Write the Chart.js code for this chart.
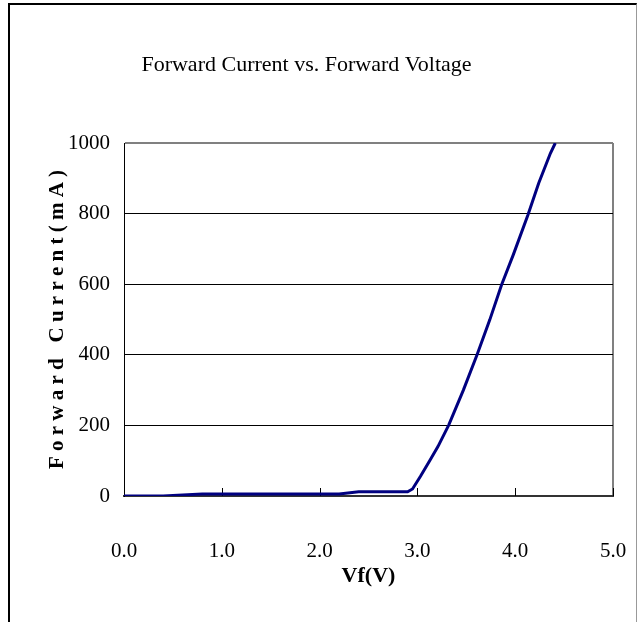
<!DOCTYPE html>
<html>
<head>
<meta charset="utf-8">
<script src="https://cdn.jsdelivr.net/npm/chart.js@4.4.0/dist/chart.umd.min.js"></script>
<style>
  html, body { margin: 0; padding: 0; background: #fff; overflow: hidden; }
  #wrap { position: relative; width: 637px; height: 622px; }
  #frame { position: absolute; left: 8px; top: 3px; width: 626px; height: 630px;
           border-left: 2px solid #000; border-top: 2px solid #000; border-right: 1px solid #999;
           pointer-events: none; }
</style>
</head>
<body>
<div id="wrap">
  <canvas id="ivChart"></canvas>
  <div id="frame"></div>
</div>
<script>
// Vf (V) vs If (mA)
const voltage = [0, 0.4, 0.8, 1.0, 2.2, 2.4, 2.9, 2.95, 3.03, 3.13, 3.21, 3.32, 3.47, 3.61, 3.74, 3.86, 3.98, 4.13, 4.24, 4.36, 4.41];
const current = [0, 0, 6, 6, 6, 12, 12, 20, 55, 102, 140, 201, 300, 400, 499, 598, 683, 796, 886, 971, 1000];
const xTicks = [0, 1, 2, 3, 4, 5];
const yTicks = [0, 200, 400, 600, 800, 1000];

const serif = '"Liberation Serif", "Times New Roman", serif';

// small tick marks pointing up into the plot area
const innerTicks = {
    id: 'innerTicks',
    beforeDatasetsDraw(chart) {
        const { ctx, chartArea, scales } = chart;
        ctx.save();
        ctx.strokeStyle = '#000';
        ctx.lineWidth = 1;
        xTicks.forEach(v => {
            const x = Math.round(scales.x.getPixelForValue(v)) + 0.5;
            ctx.beginPath();
            ctx.moveTo(x, chartArea.bottom);
            ctx.lineTo(x, chartArea.bottom - 8);
            ctx.stroke();
        });
        ctx.restore();
    }
};

const ctx = document.getElementById('ivChart').getContext('2d');
new Chart(ctx, {
    type: 'line',
    data: {
        datasets: [{
            label: 'Forward Current',
            data: voltage.map((v, i) => ({ x: v, y: current[i] })),
            borderColor: '#000080',
            borderWidth: 3,
            pointRadius: 0,
            tension: 0,
            fill: false
        }]
    },
    options: {
        responsive: true,
        maintainAspectRatio: false,
        animation: false,
        layout: { padding: { left: 0, right: 24, top: 0, bottom: 0 } },
        plugins: {
            legend: { display: false },
            tooltip: { enabled: false },
            title: {
                display: true,
                text: 'Forward Current vs. Forward Voltage',
                color: '#000',
                font: { family: serif, size: 22, weight: 'normal' },
                padding: { top: 52, bottom: 64.6 }
            }
        },
        scales: {
            x: {
                type: 'linear',
                min: 0,
                max: 5,
                afterBuildTicks: s => { s.ticks = xTicks.map(v => ({ value: v })); },
                afterFit: s => { s.height = 126; s.paddingLeft = 0; s.paddingRight = 0; },
                ticks: {
                    color: '#000',
                    padding: 43,
                    maxRotation: 0,
                    font: { family: serif, size: 21 },
                    callback: v => Number(v).toFixed(1)
                },
                grid: {
                    drawTicks: false,
                    lineWidth: 2,
                    color: c => (c.tick && c.tick.value === 5) ? '#808080' : 'rgba(0,0,0,0)'
                },
                border: { color: '#333', width: 2 },
                title: {
                    display: true,
                    text: 'Vf(V)',
                    color: '#000',
                    font: { family: serif, size: 22, weight: 'bold' },
                    padding: { top: 0, bottom: 32 }
                }
            },
            y: {
                min: 0,
                max: 1000,
                afterBuildTicks: s => { s.ticks = yTicks.map(v => ({ value: v })); },
                afterFit: s => { s.width = 124; },
                ticks: {
                    color: '#000',
                    padding: 14,
                    font: { family: serif, size: 21 },
                    callback: v => String(v)
                },
                grid: {
                    drawTicks: false,
                    lineWidth: c => (c.tick && c.tick.value === 1000) ? 2 : 1,
                    color: c => {
                        if (!c.tick || c.tick.value === 0) return 'rgba(0,0,0,0)';
                        return c.tick.value === 1000 ? '#808080' : '#000';
                    }
                },
                border: { color: '#000', width: 1 },
                title: {
                    display: true,
                    text: 'F o r w a r d   C u r r e n t ( m A )',
                    color: '#000',
                    font: { family: serif, size: 21, weight: 'bold' },
                    padding: { top: 45, bottom: 0 }
                }
            }
        }
    },
    plugins: [innerTicks]
});
</script>
</body>
</html>
